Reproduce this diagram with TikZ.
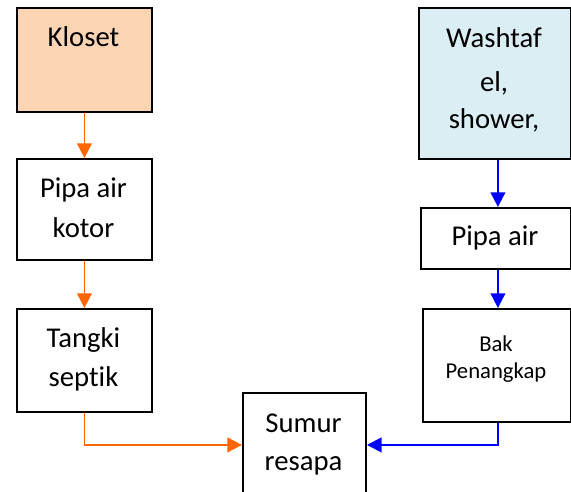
\documentclass[tikz,border=0pt]{standalone}
\usepackage{fontspec}
\setmainfont[Ligatures=NoCommon]{Carlito}
\usetikzlibrary{arrows.meta}
\definecolor{peach}{HTML}{FBD4B4}
\definecolor{paleblue}{HTML}{DAEEF3}
\definecolor{flowor}{HTML}{FF6600}
\definecolor{flowbl}{HTML}{0000FF}
\begin{document}
\begin{tikzpicture}[x=0.75pt,y=-0.75pt,
  boxnode/.style={draw=black,line width=1.4pt,anchor=north west,inner sep=0pt},
  txt/.style={anchor=base,inner sep=0pt,font=\fontsize{21.5}{25}\selectfont},
  smalltxt/.style={anchor=base,inner sep=0pt,font=\fontsize{17}{20}\selectfont},
  orflow/.style={draw=flowor,line width=1.4pt,-{Triangle[width=11pt,length=11pt]}},
  blflow/.style={draw=flowbl,line width=1.4pt,-{Triangle[width=11pt,length=11pt]}}]
\useasboundingbox (0,0) rectangle (571,492);
\clip (0,0) rectangle (571,492);
% left column
\node[boxnode,fill=peach,minimum width=101.25pt,minimum height=78pt] (kloset) at (16,7) {};
\node[txt] (tk) at (83.5,47) {Kloset};
\node[boxnode,minimum width=101.25pt,minimum height=75.75pt] (pipak) at (16,158) {};
\node[txt] (tp1) at (83.5,197) {Pipa air};
\node[txt] (tp2) at (83.5,237) {kotor};
\node[boxnode,minimum width=101.25pt,minimum height=77.25pt] (tangki) at (16,308) {};
\node[txt] (tt1) at (83.5,347) {Tangki};
\node[txt] (tt2) at (83.5,386) {septik};
% bottom middle
\node[boxnode,minimum width=92.25pt,minimum height=78pt] (sumur) at (242,392) {};
\node[txt] (ts1) at (303.5,432) {Sumur};
\node[txt] (ts2) at (303.5,470) {resapa};
% right column
\node[boxnode,fill=paleblue,minimum width=114pt,minimum height=113.25pt] (wash) at (418,7) {};
\node[txt] (tw1) at (494,48) {Washtaf};
\node[txt] (tw2) at (494,92) {el,};
\node[txt] (tw3) at (494,128) {shower,};
\node[boxnode,minimum width=112.5pt,minimum height=45.75pt] (pipab) at (420,207) {};
\node[txt] (tpb) at (495,245) {Pipa air};
\node[boxnode,minimum width=111pt,minimum height=84.75pt] (bak) at (422,308) {};
\node[smalltxt] (tb1) at (496,351) {Bak};
\node[smalltxt] (tb2) at (496,378) {Penangkap};
% connectors
\draw[orflow] (kloset.south) -- (pipak.north);
\draw[orflow] (pipak.south) -- (tangki.north);
\draw[orflow] (tangki.south) |- (sumur.west);
\draw[blflow] ([xshift=2.25pt]wash.south) -- ([xshift=1.5pt]pipab.north);
\draw[blflow] ([xshift=1.5pt]pipab.south) -- ([xshift=0.75pt]bak.north);
\draw[blflow] ([xshift=0.75pt]bak.south) |- (sumur.east);
\end{tikzpicture}
\end{document}
